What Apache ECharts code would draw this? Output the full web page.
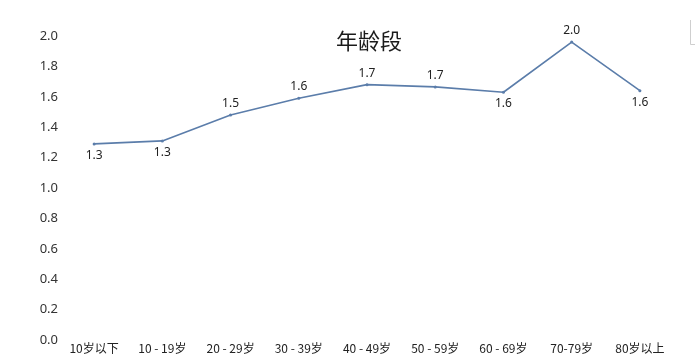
<!DOCTYPE html>
<html><head><meta charset="utf-8">
<script src="https://cdn.jsdelivr.net/npm/echarts@6/dist/echarts.min.js"></script>
<style>html,body{margin:0;padding:0;background:#fff}#c{width:695px;height:364px}</style>
</head><body><div id="c"></div>
<script>
const categories = ['10岁以下','10 - 19岁','20 - 29岁','30 - 39岁','40 - 49岁','50 - 59岁','60 - 69岁','70-79岁','80岁以上'];
const values = [1.29, 1.31, 1.48, 1.59, 1.68, 1.665, 1.63, 1.96, 1.64];
const labelPositions = ['bottom','bottom','top','top','top','top','bottom','top','bottom'];
const yTicks = [0, 0.2, 0.4, 0.6, 0.8, 1.0, 1.2, 1.4, 1.6, 1.8, 2.0];

const chart = echarts.init(document.getElementById('c'));
chart.setOption({
  animation: false,
  backgroundColor: '#fff',
  title: {
    text: '年龄段', left: 331, top: 25,
    textStyle: { fontFamily: 'Noto Sans CJK SC', fontSize: 22, fontWeight: 'normal', color: '#1a1a1a' }
  },
  grid: { left: 60, right: 21, top: 36, bottom: 24, containLabel: false },
  xAxis: {
    type: 'category', data: categories, boundaryGap: true,
    axisLine: { show: false }, axisTick: { show: false },
    axisLabel: { margin: 2, fontSize: 12, color: '#222', fontFamily: 'Noto Sans CJK SC', interval: 0 }
  },
  yAxis: {
    type: 'value', min: yTicks[0], max: yTicks[yTicks.length - 1], interval: 0.2,
    splitLine: { show: false }, axisLine: { show: false }, axisTick: { show: false },
    axisLabel: { margin: 2, fontSize: 13, color: '#333', fontFamily: 'Noto Sans', formatter: v => v.toFixed(1) }
  },
  series: [{
    type: 'line',
    data: values.map((v, i) => ({ value: v, label: { position: labelPositions[i] } })),
    symbol: 'circle', symbolSize: 3,
    lineStyle: { color: '#5b7daa', width: 1.6 },
    itemStyle: { color: '#5b7daa' },
    label: { show: true, fontSize: 12, color: '#222', fontFamily: 'Noto Sans', distance: 4,
      formatter: p => p.value.toFixed(1) }
  }],
  graphic: [
    { type: 'polyline', shape: { points: [[690.5, 20], [690.5, 44.5], [695, 44.5]] },
      style: { stroke: '#cfcfcf', lineWidth: 1, fill: null } }
  ]
});
</script></body></html>
